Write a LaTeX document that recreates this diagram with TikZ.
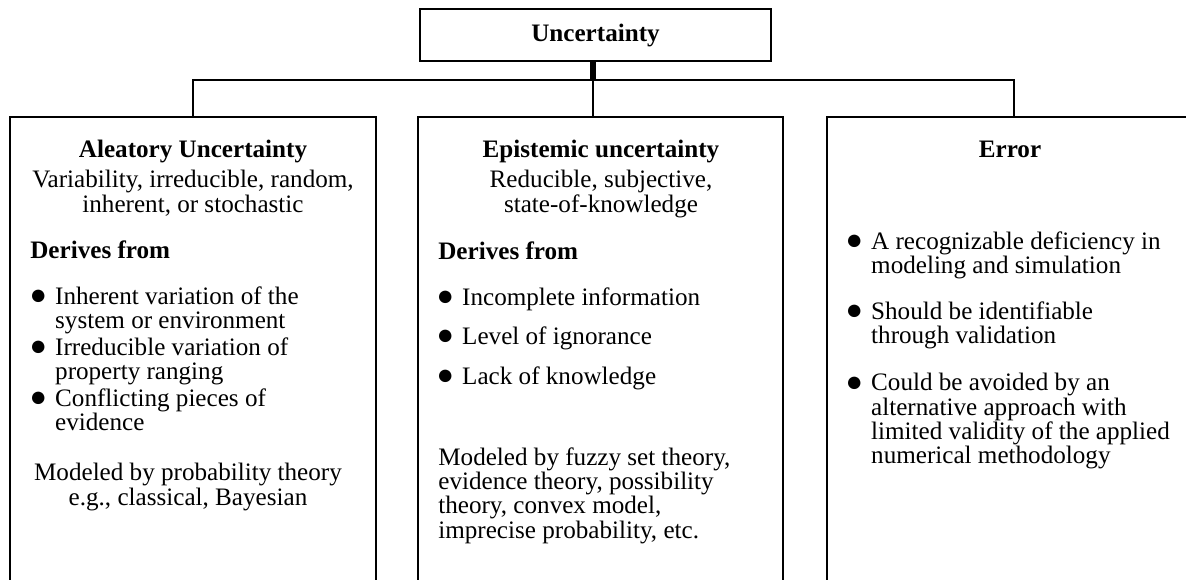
\documentclass[tikz,border=0pt]{standalone}
\usepackage{graphicx}
\usepackage{fontspec}
\setmainfont{Liberation Serif}
\newcommand{\bodyfont}{\fontsize{14.3pt}{13.85pt}\selectfont}
\newcommand{\bul}{\makebox[13pt][l]{\hspace*{-1.5pt}\raisebox{-0.3pt}{\scalebox{1.15}{●}}}}
\newcommand{\hang}{\hspace*{13pt}}

\begin{document}
\begin{tikzpicture}[x=0.02cm, y=-0.02cm,
  every node/.style={font=\bodyfont, inner sep=0pt},
  rootbox/.style={draw, line width=1.1pt, minimum width=7.02cm, minimum height=1.04cm},
  panel/.style={draw, line width=1.1pt, minimum width=#1, minimum height=10cm, anchor=north},
  head/.style={font=\bodyfont\bfseries, anchor=north},
  body/.style={align=center, anchor=north},
  item/.style={align=left, anchor=north west}]
  \useasboundingbox (0,0) rectangle (1186,579);
  \clip (0,0) rectangle (1186,579);

  % Root box
  \node[rootbox, font=\bodyfont\bfseries] (unc) at (595.5,35) {Uncertainty};

  % Three panels, running off the bottom (and right) of the page
  \node[panel=7.32cm] (aleat) at (193,116) {};
  \node[panel=7.3cm] (epist) at (600.5,116) {};
  \node[panel=7.48cm] (err) at (1014,116) {};

  % Tree connectors
  \coordinate (hub) at (593,80);
  \draw[line width=3.4pt] (hub |- unc.south) -- (hub);
  \draw[line width=1.1pt] (aleat.north) |- (hub) -| (err.north);
  \draw[line width=1.1pt] (hub) -- (hub |- epist.north);

  % Aleatory panel
  \node[head] (aleatT) at (193,140) {Aleatory Uncertainty};
  \node[body] (aleatD) at (193,170) {Variability, irreducible, random,\\inherent, or stochastic};
  \node[head, anchor=north west] (aleatH) at (30,240) {Derives from};
  \node[item] (aleatA) at (32,286) {\bul Inherent variation of the\\\hang system or environment};
  \node[item] (aleatB) at (32,337) {\bul Irreducible variation of\\\hang property ranging};
  \node[item] (aleatC) at (32,388) {\bul Conflicting pieces of\\\hang evidence};
  \node[body] (aleatM) at (188,463) {Modeled by probability theory\\e.g., classical, Bayesian};

  % Epistemic panel
  \node[head] (epistT) at (601,140) {Epistemic uncertainty};
  \node[body] (epistD) at (601,170) {Reducible, subjective,\\state-of-knowledge};
  \node[head, anchor=north west] (epistH) at (438,241) {Derives from};
  \node[item] (epistA) at (439,287) {\bul Incomplete information};
  \node[item] (epistB) at (439,326) {\bul Level of ignorance};
  \node[item] (epistC) at (439,366) {\bul Lack of knowledge};
  \node[item] (epistM) at (438,447) {Modeled by fuzzy set theory,\\evidence theory, possibility\\theory, convex model,\\imprecise probability, etc.};

  % Error panel
  \node[head] (errT) at (1010,141) {Error};
  \node[item] (errA) at (848,231) {\bul A recognizable deficiency in\\\hang modeling and simulation};
  \node[item] (errB) at (848,301) {\bul Should be identifiable\\\hang through validation};
  \node[item] (errC) at (848,373) {\bul Could be avoided by an\\\hang alternative approach with\\\hang limited validity of the applied\\\hang numerical methodology};
\end{tikzpicture}
\end{document}
